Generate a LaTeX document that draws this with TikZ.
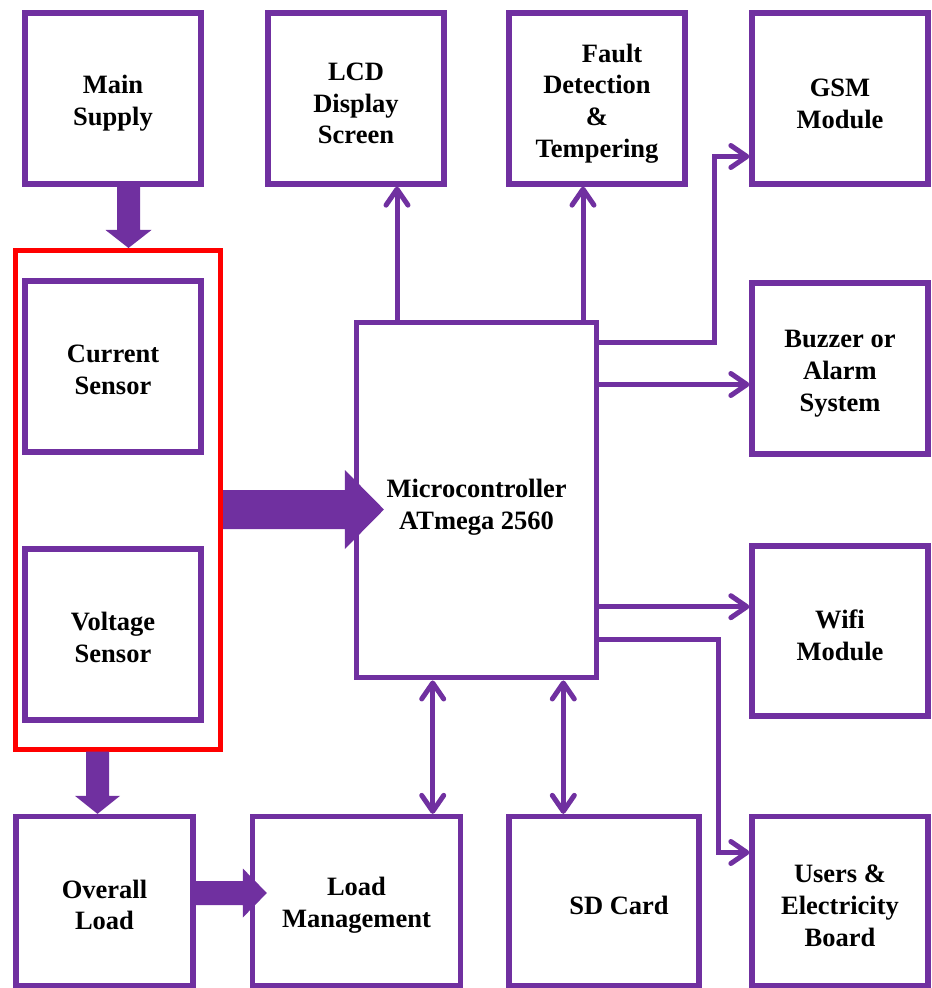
\documentclass[tikz,border=0pt]{standalone}
\usepackage{fontspec}
\setmainfont{Liberation Serif}
\usetikzlibrary{arrows.meta,calc}
\definecolor{purp}{HTML}{7030A0}
\definecolor{redb}{HTML}{FF0000}
\newcommand\myDownArrow[5]{%
  \fill[purp] ($(#1)+(-#3,0)$) -- ($(#2)+(-#3,-#5)$) -- ($(#2)+(-#4,-#5)$) -- (#2)
    -- ($(#2)+(#4,-#5)$) -- ($(#2)+(#3,-#5)$) -- ($(#1)+(#3,0)$) -- cycle;}
\newcommand\myRightArrow[5]{%
  \fill[purp] ($(#1)+(0,-#3)$) -- ($(#2)+(-#5,-#3)$) -- ($(#2)+(-#5,-#4)$) -- (#2)
    -- ($(#2)+(-#5,#4)$) -- ($(#2)+(-#5,#3)$) -- ($(#1)+(0,#3)$) -- cycle;}
\tikzset{
  box/.style={draw=purp, line width=2.65pt, minimum width=88pt, minimum height=85.5pt,
    inner sep=0pt},
  txt/.style={inner sep=0pt, align=center, font=\bfseries\fontsize{13.25}{15.9}\selectfont},
  conn/.style={draw=purp, line width=2.5pt},
  tip/.style={-{Straight Barb[length=8pt,width=11pt,round]}},
  tipboth/.style={{Straight Barb[length=8pt,width=11pt,round]}-{Straight Barb[length=8pt,width=11pt,round]}},
}
\begin{document}
\begin{tikzpicture}[x=0.5pt,y=-0.5pt]
\useasboundingbox (0,0) rectangle (931,988);
% boxes
\node[box] (ms) at (113,98.5) {};
\node[box] (lcd) at (356,98.5) {};
\node[box] (fault) at (597,98.5) {};
\node[box] (gsm) at (840,98.5) {};
\node[draw=redb, line width=2.5pt, minimum width=102.5pt, minimum height=249.25pt, inner sep=0pt] (red) at (118,499.75) {};
\node[box] (cs) at (113,366.5) {};
\node[box] (vs) at (113,634.5) {};
\node[box, minimum width=120pt, minimum height=177.5pt] (mc) at (476.6,500.3) {};
\node[box] (buz) at (840,368.5) {};
\node[box, minimum height=85pt] (wifi) at (840,631) {};
\node[box, minimum width=88.5pt, minimum height=84.5pt] (ol) at (104.5,901) {};
\node[box, minimum width=104pt, minimum height=84.5pt] (lm) at (356.5,901) {};
\node[box, minimum width=95pt, minimum height=84.5pt] (sd) at (604,901) {};
\node[box, minimum height=84.5pt] (us) at (840,901) {};
% texts
\node[txt] (mst) at ($(ms)+(0,5)$) {Main\\Supply};
\node[txt] (lcdt) at ($(lcd)+(0,5)$) {LCD\\Display\\Screen};
\node[txt] (faultt) at ($(fault)+(0,5)$) {\hspace*{15pt}Fault\\Detection\\\&\\Tempering};
\node[txt] (gsmt) at ($(gsm)+(0,5)$) {GSM\\Module};
\node[txt] (cst) at ($(cs)+(0,3)$) {Current\\Sensor};
\node[txt] (vst) at ($(vs)+(0,3)$) {Voltage\\Sensor};
\node[txt] (mct) at ($(mc)+(0,7)$) {Microcontroller\\ATmega 2560};
\node[txt] (buzt) at ($(buz)+(0,5)$) {Buzzer or\\Alarm\\System};
\node[txt] (wifit) at ($(wifi)+(0,4)$) {Wifi\\Module};
\node[txt] (olt) at ($(ol)+(0,4)$) {Overall\\Load};
\node[txt] (lmt) at ($(lm)+(0,4)$) {Load\\Management};
\node[txt] (sdt) at ($(sd)+(15,4)$) {SD Card};
\node[txt] (ust) at ($(us)+(0,5)$) {Users \&\\Electricity\\Board};
% block arrows
\coordinate (t1) at (128.5,0);
\coordinate (t1s) at (t1 |- ms.south);
\coordinate (t1e) at (t1 |- red.north);
\myDownArrow{t1s}{t1e}{11.5}{23}{18}
\coordinate (r2) at (0,509.5);
\coordinate (r2s) at (red.east |- r2);
\coordinate (r2e) at ($(mc.west |- r2)+(30,0)$);
\myRightArrow{r2s}{r2e}{19.5}{39.5}{39}
\coordinate (t3) at (97.5,0);
\coordinate (t3s) at (t3 |- red.south);
\coordinate (t3e) at (t3 |- ol.north);
\myDownArrow{t3s}{t3e}{11.5}{22.5}{18}
\coordinate (r4) at (0,893);
\coordinate (r4s) at (ol.east |- r4);
\coordinate (r4e) at ($(lm.west |- r4)+(17,0)$);
\myRightArrow{r4s}{r4e}{12}{24.5}{24}
% thin connectors
\coordinate (c1) at (397,0);
\draw[conn,tip] (c1 |- mc.north) -- (c1 |- lcd.south);
\coordinate (c2) at (583,0);
\draw[conn,tip] (c2 |- mc.north) -- (c2 |- fault.south);
\coordinate (g1) at (714.5,342.5);
\coordinate (g2) at (714.5,156.5);
\draw[conn,tip] (mc.east |- g1) -- (g1) -- (g2) -- (g2 -| gsm.west);
\coordinate (b1) at (0,384.5);
\draw[conn,tip] (mc.east |- b1) -- (buz.west |- b1);
\coordinate (w1) at (0,606.7);
\draw[conn,tip] (mc.east |- w1) -- (wifi.west |- w1);
\coordinate (u1) at (718.3,639.2);
\coordinate (u2) at (718.3,852.5);
\draw[conn,tip] (mc.east |- u1) -- (u1) -- (u2) -- (u2 -| us.west);
\coordinate (l1) at (432.7,0);
\draw[conn,tipboth] (l1 |- mc.south) -- (l1 |- lm.north);
\coordinate (s1) at (563.3,0);
\draw[conn,tipboth] (s1 |- mc.south) -- (s1 |- sd.north);
\end{tikzpicture}
\end{document}
